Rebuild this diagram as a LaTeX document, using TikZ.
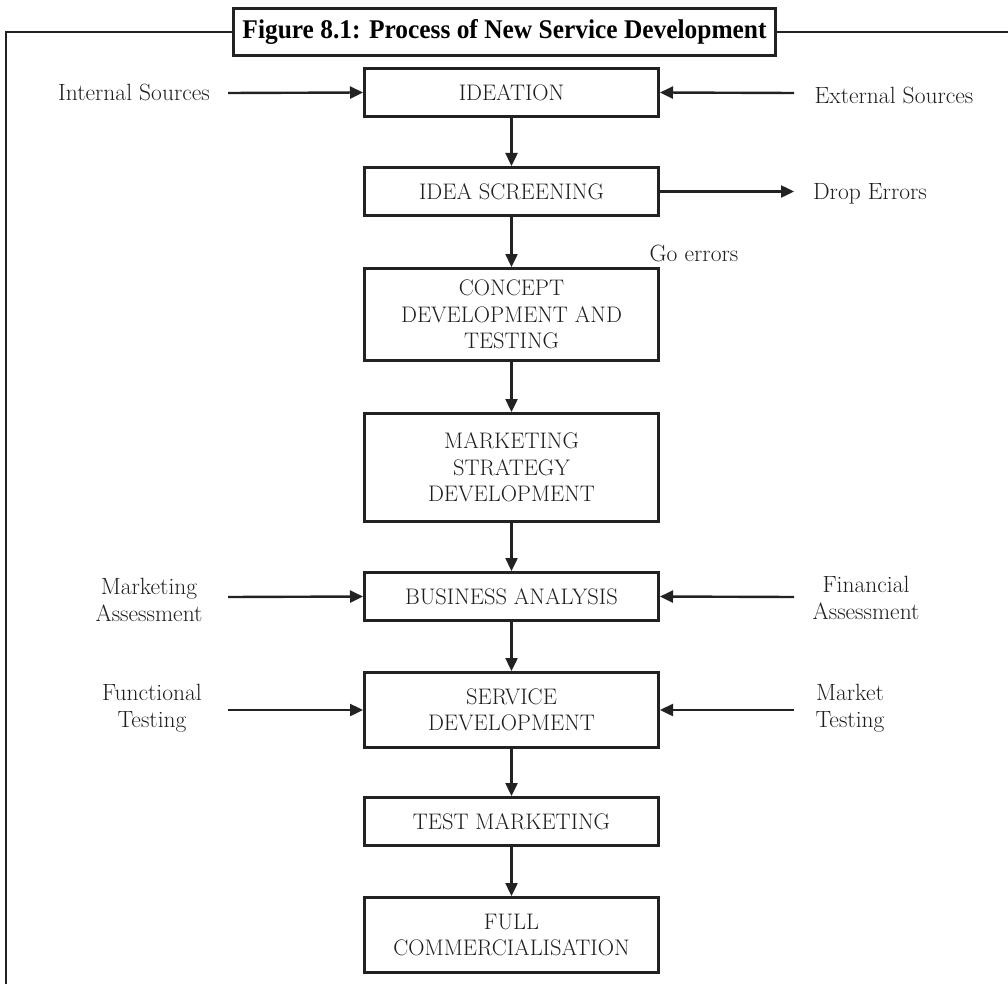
\documentclass[tikz,border=0pt]{standalone}
\usepackage{fontspec}
\usepackage{graphicx}
\newfontfamily\titlefont{Liberation Serif}
\usetikzlibrary{arrows.meta}
\definecolor{ink}{HTML}{222222}
\definecolor{textink}{HTML}{1E1E1E}
\begin{document}
\begin{tikzpicture}[x=1pt,y=-1pt,
  stage/.style={draw=ink, line width=2.6pt, fill=white, minimum width=294.4pt,
    align=center, font=\fontsize{22.5}{26.5}\selectfont, text=textink, inner sep=0pt},
  side/.style={align=center, font=\fontsize{23.5}{26.5}\selectfont, text=textink, inner sep=0pt},
  flow/.style={draw=ink, line width=2.4pt, -{Triangle[length=13pt,width=12pt]}},
  frameline/.style={draw=ink, line width=2.6pt, line join=miter}]
\useasboundingbox (0,0) rectangle (1008,984);

% outer frame (top and left edges)
\draw[frameline] (6,984) -- (6,32) -- (1008,32);

% caption box
\node[draw=ink, line width=2.6pt, fill=white, minimum width=542pt, minimum height=47.4pt, inner sep=0pt]
  (title) at (504.5,32)
  {\resizebox{524pt}{\height}{\titlefont\bfseries\fontsize{27}{27}\selectfont Figure 8.1: Process of New Service Development}};

% main stages
\node[stage, minimum height=48.4pt]  (ideation)  at (511.5,92.5) {IDEATION};
\node[stage, minimum height=48.4pt]  (screening) at (511.5,191.5) {IDEA SCREENING};
\node[stage, minimum height=92.4pt]  (concept)   at (511.5,314.5) {CONCEPT\\DEVELOPMENT AND\\TESTING};
\node[stage, minimum height=108.4pt] (strategy)  at (511.5,467.5) {MARKETING\\STRATEGY\\DEVELOPMENT};
\node[stage, minimum height=48.4pt]  (business)  at (511.5,596.5) {BUSINESS ANALYSIS};
\node[stage, minimum height=75.4pt]  (servdev)   at (511.5,710) {SERVICE\\DEVELOPMENT};
\node[stage, minimum height=48.4pt]  (testmkt)   at (511.5,821.5) {TEST MARKETING};
\node[stage, minimum height=75.4pt]  (fullcom)   at (511.5,935) {FULL\\COMMERCIALISATION};

% flow between stages
\draw[flow] (ideation) -- (screening);
\draw[flow] (screening) -- (concept);
\draw[flow] (concept) -- (strategy);
\draw[flow] (strategy) -- (business);
\draw[flow] (business) -- (servdev);
\draw[flow] (servdev) -- (testmkt);
\draw[flow] (testmkt) -- (fullcom);

% inputs on the left
\node[side] (intsrc)  at (134,92)  {Internal Sources};
\node[side] (mktass)  at (149,600) {Marketing\\Assessment};
\node[side] (functst) at (152,708) {Functional\\Testing};
\coordinate (intsrcEnd)  at (228,93);
\coordinate (mktassEnd)  at (228,597);
\coordinate (functstEnd) at (228,710);
\draw[flow] (intsrcEnd)  -- (ideation.west);
\draw[flow] (mktassEnd)  -- (business.west);
\draw[flow] (functstEnd) -- (servdev.west);

% inputs on the right
\node[side] (extsrc)  at (894,95)  {External Sources};
\node[side] (finass)  at (866,598) {Financial\\Assessment};
\node[side] (mkttst)  at (850,708) {Market\\Testing};
\coordinate (extsrcEnd)  at (794,93);
\coordinate (finassEnd)  at (794,597);
\coordinate (mkttstEnd)  at (794,710);
\draw[flow] (extsrcEnd) -- (ideation.east);
\draw[flow] (finassEnd) -- (business.east);
\draw[flow] (mkttstEnd) -- (servdev.east);

% screening outcomes
\coordinate (dropEnd) at (794,191.5);
\draw[flow] (screening.east) -- (dropEnd);
\node[side] (drop) at (870,194) {Drop Errors};
\node[side] (go)   at (694,253) {Go errors};
\end{tikzpicture}
\end{document}
